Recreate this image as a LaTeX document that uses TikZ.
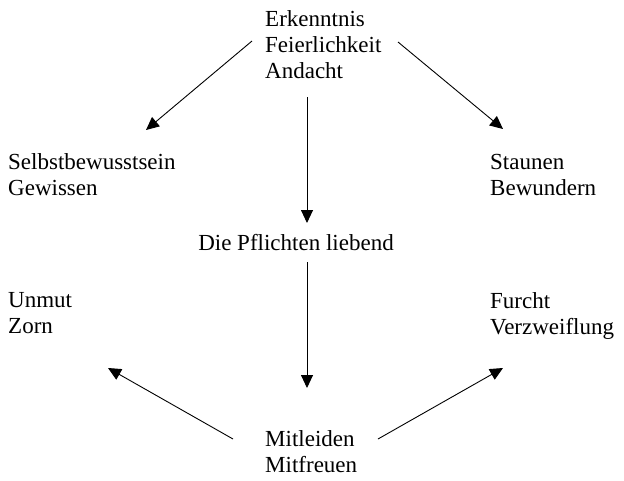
\documentclass[tikz,border=0pt]{standalone}
\usepackage{fontspec}
\setmainfont{Liberation Serif}
\usetikzlibrary{arrows.meta}

\begin{document}
\begin{tikzpicture}[x=1pt, y=-1pt,
    txt/.style={font=\fontsize{23}{26}\selectfont, inner sep=0pt, align=left, anchor=base west},
    arr/.style={line width=0.9pt, -{Triangle[length=13pt,width=12pt]}}]
      % Rahmen
      \useasboundingbox (0,0) rectangle (624,480);

      % Begriffe (base = letzte Zeile)
      \node[txt] (erk) at (265,78) {Erkenntnis\\Feierlichkeit\\Andacht};
      \node[txt] (selbst) at (8,195) {Selbstbewusstsein\\Gewissen};
      \node[txt] (staunen) at (490,195) {Staunen\\Bewundern};
      \node[txt, anchor=base] (pflicht) at (296,250) {Die Pflichten liebend};
      \node[txt] (unmut) at (8,333) {Unmut\\Zorn};
      \node[txt] (furcht) at (490,334) {Furcht\\Verzweiflung};
      \node[txt] (mitleid) at (265,472) {Mitleiden\\Mitfreuen};

      % Pfeile von oben
      \draw[arr] ([shift={(-13,-37)}]erk.base west) -- ([shift={(138,-65)}]selbst.base west);
      \draw[arr] ([shift={(133,-36)}]erk.base west) -- ([shift={(13,-66)}]staunen.base west);
      \draw[arr] ([shift={(42,19)}]erk.base west) -- ([shift={(11,-27)}]pflicht.base);

      % Pfeile nach unten und von unten
      \draw[arr] ([shift={(11,12)}]pflicht.base) -- ([shift={(42,-84)}]mitleid.base west);
      \draw[arr] ([shift={(-32,-33)}]mitleid.base west) -- ([shift={(100,35)}]unmut.base west);
      \draw[arr] ([shift={(113,-33)}]mitleid.base west) -- ([shift={(13,34)}]furcht.base west);
\end{tikzpicture}
\end{document}
